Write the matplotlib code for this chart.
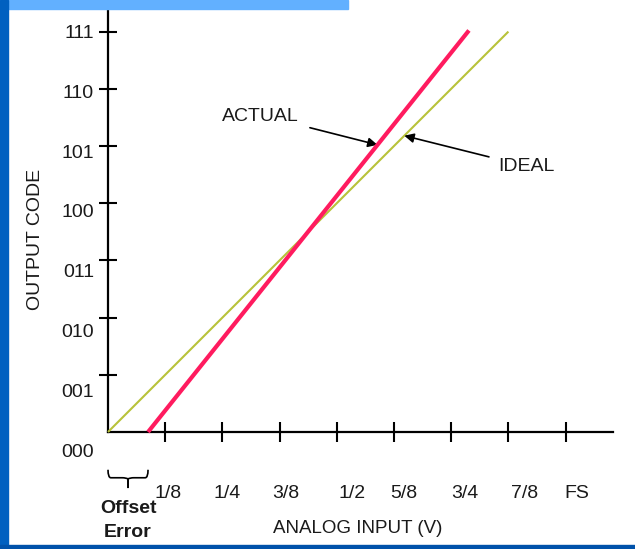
import matplotlib
matplotlib.use("Agg")
import matplotlib.pyplot as plt
from matplotlib.patches import Rectangle, PathPatch
from matplotlib.path import Path

plt.rcParams['font.family'] = ['Liberation Sans', 'DejaVu Sans']

# data (x in eighths of full scale, y in output code steps)
ideal_x = [0, 7]
ideal_y = [0, 7]
actual_x = [0.7, 6.31]
actual_y = [0, 7.02]
offset_error = actual_x[0]

x_ticks = [1, 2, 3, 4, 5, 6, 7, 8]
x_labels = ["1/8", "1/4", "3/8", "1/2", "5/8", "3/4", "7/8", "FS"]
y_ticks = [1, 2, 3, 4, 5, 6, 7]
y_codes = ["000", "001", "010", "011", "100", "101", "110", "111"]

# label placement nudges (copied from the scanned figure)
x_label_shift = [0.05, 0.09, 0.11, 0.26, 0.17, 0.23, 0.28, 0.19]

W, H, DPI = 635, 549, 100
unit = 57.2
fig = plt.figure(figsize=(W / DPI, H / DPI), dpi=DPI)
ax = fig.add_axes([0, 0, 1, 1])
ax.set_xlim(-108 / unit, (W - 108) / unit)
ax.set_ylim((432 - H) / unit, 432 / unit)

# blue slide frame
fig.patches.append(Rectangle((0, 1 - 9 / H), 348 / W, 9 / H, transform=fig.transFigure,
                             color='#62b0ff', zorder=0))
fig.patches.append(Rectangle((0, 0), 8 / W, 1, transform=fig.transFigure,
                             color='#0060c0', zorder=0))
fig.patches.append(Rectangle((0, 0), 1, 4 / H, transform=fig.transFigure,
                             color='#0052aa', zorder=0))

# axes
for s in ['top', 'right']:
    ax.spines[s].set_visible(False)
ax.spines['left'].set_position(('data', 0))
ax.spines['bottom'].set_position(('data', 0))
ax.spines['left'].set_bounds(0, 7.4)
ax.spines['bottom'].set_bounds(0, 8.82)
ax.spines['left'].set_linewidth(1.6)
ax.spines['bottom'].set_linewidth(1.6)
ax.set_xticks(x_ticks)
ax.set_yticks(y_ticks)
ax.set_xticklabels([])
ax.set_yticklabels([])
ax.tick_params(axis='x', direction='inout', length=14, width=1.5)
ax.tick_params(axis='y', direction='inout', length=12.5, width=1.5)

ax.plot(ideal_x, ideal_y, color='#b8c23a', lw=1.5, solid_capstyle='butt', zorder=3)
ax.plot(actual_x, actual_y, color='#ff1b5f', lw=3.0, solid_capstyle='butt', zorder=4)

fs = 14
txt = '#1a1a1a'
for i, lab in enumerate(y_codes):
    ax.text(-0.245, i - 0.035 - 0.045 * (7 - i), lab, ha='right', va='center',
            fontsize=fs, color=txt)
for t, lab, dx in zip(x_ticks, x_labels, x_label_shift):
    ax.text(t + dx, -1.07, lab, ha='center', va='center', fontsize=fs, color=txt)

ax.text(4.37, -1.68, "ANALOG INPUT (V)", ha='center', va='center', fontsize=13.5, color=txt)
ax.text(-1.27, 3.36, "OUTPUT CODE", ha='center', va='center', rotation=90,
        fontsize=fs, color=txt)

# offset error brace
a, b = 0, offset_error
m = (a + b) / 2
top, mid, tip = -0.66, -0.80, -0.98
verts = [(a, top), (a, mid), (a + 0.05, mid), (a + 0.1, mid), (m - 0.1, mid),
         (m - 0.04, mid), (m, mid - 0.02), (m, tip)]
codes = [Path.MOVETO, Path.CURVE3, Path.CURVE3, Path.LINETO, Path.LINETO,
         Path.CURVE3, Path.CURVE3, Path.LINETO]
ax.add_patch(PathPatch(Path(verts, codes), fill=False, lw=1.2, color='black'))
verts2 = [(b, top), (b, mid), (b - 0.05, mid), (b - 0.1, mid), (m + 0.1, mid),
          (m + 0.04, mid), (m, mid - 0.02), (m, tip)]
ax.add_patch(PathPatch(Path(verts2, codes), fill=False, lw=1.2, color='black'))
ax.text(m, -1.33, "Offset", ha='center', va='center', fontsize=14, fontweight='bold', color=txt)
ax.text(m, -1.75, "Error", ha='center', va='center', fontsize=14, fontweight='bold', color=txt)

# callouts
ya = 5.02
ax.annotate("", xy=(actual_x[0] + ya * (actual_x[1] - actual_x[0]) / actual_y[1], ya),
            xytext=(3.53, 5.32),
            arrowprops=dict(arrowstyle='-|>', color='black', lw=1.2, mutation_scale=14,
                            shrinkA=0, shrinkB=0))
ax.text(1.99, 5.51, "ACTUAL", ha='left', va='center', fontsize=14, color=txt)
yi = 5.18
ax.annotate("", xy=(yi, yi), xytext=(6.66, 4.81),
            arrowprops=dict(arrowstyle='-|>', color='black', lw=1.2, mutation_scale=14,
                            shrinkA=0, shrinkB=0))
ax.text(6.82, 4.65, "IDEAL", ha='left', va='center', fontsize=14, color=txt)

fig.savefig("out.png", dpi=DPI)
